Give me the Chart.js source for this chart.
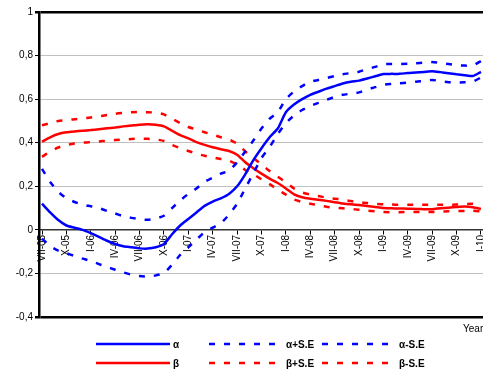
<!DOCTYPE html>
<html>
<head>
<meta charset="utf-8">
<script src="https://cdn.jsdelivr.net/npm/chart.js@4.4.1/dist/chart.umd.min.js"></script>
<style>
  html, body { margin: 0; padding: 0; background: #fff; }
  #wrap { width: 483px; height: 374px; }
</style>
</head>
<body>
<div id="wrap"><canvas id="chart" width="483" height="374"></canvas></div>
<script>
// monthly values, VII-05 .. I-10
const alpha = [0.12, 0.08, 0.045, 0.02, 0.01, 0.0, -0.015, -0.032, -0.05, -0.065, -0.075, -0.08, -0.085, -0.086, -0.08,
  -0.065, -0.02, 0.02, 0.05, 0.08, 0.11, 0.13, 0.145, 0.165, 0.2, 0.255, 0.32, 0.375, 0.425, 0.465, 0.54, 0.575, 0.6,
  0.62, 0.634, 0.648, 0.66, 0.672, 0.68, 0.685, 0.695, 0.705, 0.715, 0.716, 0.716, 0.72, 0.722, 0.725, 0.728, 0.724,
  0.719, 0.714, 0.71, 0.706, 0.725];
const alphaPlus = [0.28, 0.22, 0.175, 0.145, 0.128, 0.115, 0.108, 0.1, 0.087, 0.075, 0.063, 0.055, 0.049, 0.046, 0.052,
  0.065, 0.1, 0.135, 0.165, 0.19, 0.22, 0.24, 0.258, 0.272, 0.31, 0.36, 0.41, 0.465, 0.51, 0.54, 0.6, 0.635, 0.66,
  0.68, 0.688, 0.697, 0.706, 0.714, 0.72, 0.726, 0.738, 0.748, 0.76, 0.761, 0.761, 0.762, 0.765, 0.767, 0.77, 0.766,
  0.761, 0.756, 0.754, 0.755, 0.775];
const alphaMinus = [-0.04, -0.075, -0.095, -0.107, -0.12, -0.132, -0.143, -0.157, -0.17, -0.183, -0.195, -0.206, -0.212,
  -0.214, -0.209, -0.199, -0.16, -0.115, -0.08, -0.045, -0.01, 0.01, 0.03, 0.07, 0.12, 0.19, 0.26, 0.33, 0.38, 0.44,
  0.49, 0.525, 0.55, 0.568, 0.583, 0.597, 0.61, 0.62, 0.625, 0.631, 0.645, 0.655, 0.666, 0.67, 0.673, 0.676, 0.68,
  0.684, 0.688, 0.683, 0.678, 0.676, 0.677, 0.68, 0.7];
const beta = [0.405, 0.425, 0.44, 0.448, 0.452, 0.455, 0.458, 0.462, 0.466, 0.47, 0.475, 0.479, 0.483, 0.485, 0.482,
  0.475, 0.455, 0.435, 0.42, 0.403, 0.39, 0.379, 0.37, 0.362, 0.345, 0.31, 0.283, 0.258, 0.235, 0.215, 0.19, 0.163,
  0.15, 0.143, 0.138, 0.133, 0.127, 0.121, 0.117, 0.114, 0.11, 0.105, 0.1, 0.099, 0.098, 0.097, 0.096, 0.095, 0.095,
  0.099, 0.102, 0.105, 0.107, 0.104, 0.096];
const betaPlus = [0.48, 0.49, 0.5, 0.503, 0.508, 0.511, 0.516, 0.521, 0.527, 0.533, 0.537, 0.54, 0.541, 0.54, 0.538,
  0.53, 0.51, 0.49, 0.472, 0.46, 0.448, 0.437, 0.425, 0.415, 0.395, 0.36, 0.33, 0.3, 0.27, 0.244, 0.218, 0.19, 0.172,
  0.162, 0.155, 0.148, 0.143, 0.139, 0.132, 0.127, 0.123, 0.12, 0.117, 0.116, 0.115, 0.115, 0.115, 0.115, 0.115,
  0.115, 0.115, 0.116, 0.118, 0.12, 0.11];
const betaMinus = [0.335, 0.36, 0.378, 0.39, 0.396, 0.4, 0.403, 0.406, 0.409, 0.412, 0.415, 0.417, 0.419, 0.418, 0.415,
  0.408, 0.39, 0.375, 0.362, 0.35, 0.34, 0.332, 0.325, 0.318, 0.3, 0.275, 0.255, 0.232, 0.21, 0.185, 0.162, 0.14,
  0.128, 0.12, 0.113, 0.106, 0.102, 0.099, 0.096, 0.092, 0.088, 0.085, 0.082, 0.081, 0.081, 0.082, 0.082, 0.081,
  0.082, 0.083, 0.085, 0.087, 0.087, 0.088, 0.085];
// one label every 3 months
const tickLabels = ['VII-05', 'X-05', 'I-06', 'IV-06', 'VII-06', 'X-06', 'I-07', 'IV-07', 'VII-07', 'X-07',
  'I-08', 'IV-08', 'VII-08', 'X-08', 'I-09', 'IV-09', 'VII-09', 'X-09', 'I-10'];

const BLUE = '#0000ff';
const RED = '#ff0000';
const DASH = [6, 9];
const FONT = '"Liberation Sans", Arial, sans-serif';

function series(label, values, color, dashed) {
  return {
    label: label,
    data: values.map((v, i) => ({x: i, y: v})),
    borderColor: color,
    backgroundColor: color,
    borderWidth: 2.5,
    borderDash: dashed ? DASH : [],
    pointRadius: 0,
    tension: 0.2,
    fill: false
  };
}

// legend laid out as a 2x3 table + the clipped "Year" caption
const legendTable = {
  id: 'legendTable',
  afterDraw(chart) {
    const ctx = chart.ctx;
    ctx.save();
    chart.data.datasets.forEach((ds, i) => {
      const x = 96 + (i % 3) * 113;
      const y = 344 + Math.floor(i / 3) * 19;
      ctx.strokeStyle = ds.borderColor;
      ctx.lineWidth = ds.borderWidth;
      ctx.setLineDash(ds.borderDash);
      ctx.beginPath();
      ctx.moveTo(x, y);
      ctx.lineTo(x + 74, y);
      ctx.stroke();
      ctx.setLineDash([]);
      ctx.fillStyle = '#000';
      ctx.font = 'bold 10px ' + FONT;
      ctx.textBaseline = 'middle';
      ctx.fillText(ds.label, x + 77, y + 1);
    });
    ctx.font = '10px ' + FONT;
    ctx.textBaseline = 'alphabetic';
    ctx.fillText('Year', 463, 332);
    ctx.restore();
  }
};

const isEdge = v => Math.abs(v - 1) < 1e-6 || Math.abs(v + 0.4) < 1e-6;

new Chart(document.getElementById('chart'), {
  type: 'line',
  data: {
    datasets: [
      series('α', alpha, BLUE, false),
      series('α+S.E', alphaPlus, BLUE, true),
      series('α-S.E', alphaMinus, BLUE, true),
      series('β', beta, RED, false),
      series('β+S.E', betaPlus, RED, true),
      series('β-S.E', betaMinus, RED, true)
    ]
  },
  options: {
    responsive: false,
    animation: false,
    layout: {padding: {top: 12, bottom: 57, left: 0, right: 0}},
    plugins: {legend: {display: false}, tooltip: {enabled: false}},
    scales: {
      x: {
        type: 'linear',
        position: {y: 0},
        min: -0.37,
        max: 54.25,
        afterBuildTicks: s => { s.ticks = tickLabels.map((_, i) => ({value: i * 3})); },
        afterFit: s => { s.paddingLeft = 0; s.paddingRight = 0; },
        ticks: {
          autoSkip: false,
          minRotation: 90,
          maxRotation: 90,
          padding: 1,
          color: '#000',
          font: {family: FONT, size: 10},
          callback: v => tickLabels[Math.round(v / 3)]
        },
        grid: {drawOnChartArea: false, color: '#000', tickLength: 4},
        border: {color: '#333', width: 1.5}
      },
      y: {
        min: -0.4,
        max: 1,
        afterFit: s => { s.width = 39; },
        ticks: {
          stepSize: 0.2,
          padding: 2,
          color: '#000',
          font: {family: FONT, size: 10},
          callback: v => Math.abs(v) < 1e-6 ? '0' : (Math.round(v * 10) / 10).toString().replace('.', ',')
        },
        grid: {
          color: c => isEdge(c.tick.value) ? '#000' : '#c0c0c0',
          lineWidth: c => isEdge(c.tick.value) ? 2.5 : 1,
          tickColor: '#000',
          tickLength: 4
        },
        border: {color: '#000', width: 2.5}
      }
    }
  },
  plugins: [legendTable]
});
</script>
</body>
</html>
